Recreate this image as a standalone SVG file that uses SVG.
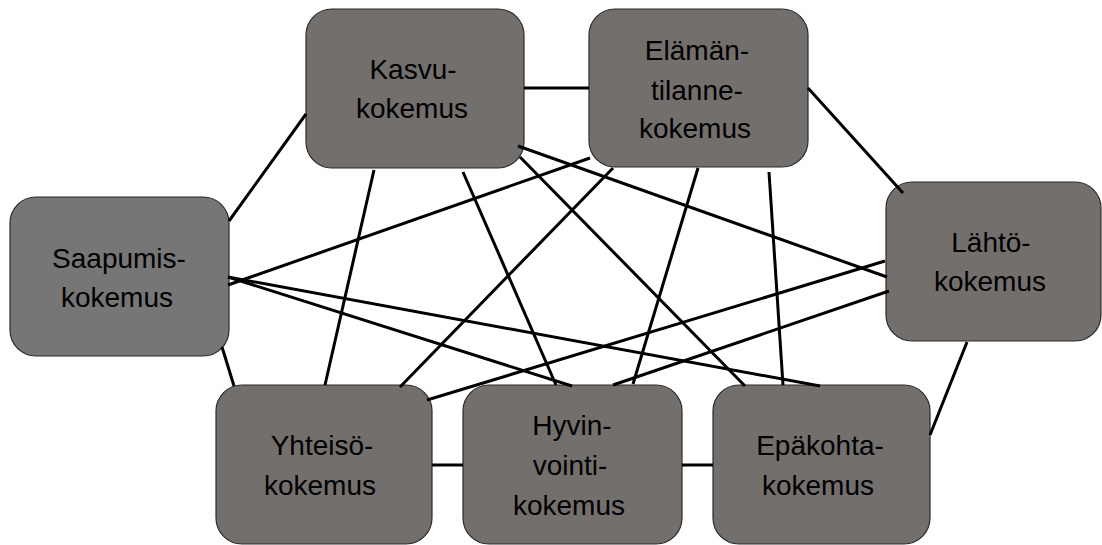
<svg xmlns="http://www.w3.org/2000/svg" width="1102" height="545" viewBox="0 0 1102 545">
<style>
.node rect{fill:#736f6d;stroke:#2b2b2b;stroke-width:1.2}
.node text{font-family:"Liberation Sans",Arial,sans-serif;font-size:28px;fill:#000;text-anchor:middle}
.edges line{stroke:#000;stroke-width:3;stroke-linecap:butt}
</style>
<rect width="1102" height="545" fill="#fff"/>
<g id="n-kasvu" class="node"><rect x="306" y="9" width="218" height="159" rx="26"/><text x="413" y="79">Kasvu-</text><text x="412" y="118">kokemus</text></g>
<g id="n-elaman" class="node"><rect x="589" y="9" width="219" height="158" rx="26"/><text x="697" y="60">Elämän-</text><text x="697" y="100">tilanne-</text><text x="695" y="138">kokemus</text></g>
<g id="n-saapumis" class="node"><rect x="10" y="197" width="219" height="159" rx="26" style="fill:#777676"/><text x="119" y="268">Saapumis-</text><text x="117" y="307">kokemus</text></g>
<g id="n-lahto" class="node"><rect x="886" y="182" width="215" height="159" rx="26"/><text x="991" y="252">Lähtö-</text><text x="990" y="291">kokemus</text></g>
<g id="n-yhteiso" class="node"><rect x="216" y="385" width="216" height="159" rx="26"/><text x="322" y="455">Yhteisö-</text><text x="320" y="495">kokemus</text></g>
<g id="n-hyvin" class="node"><rect x="463" y="385" width="219" height="159" rx="26"/><text x="572" y="435">Hyvin-</text><text x="570" y="475">vointi-</text><text x="569" y="515">kokemus</text></g>
<g id="n-epakohta" class="node"><rect x="713" y="385" width="217" height="159" rx="26"/><text x="820" y="455">Epäkohta-</text><text x="818" y="495">kokemus</text></g>
<g id="connectors" class="edges">
<line x1="524" y1="88" x2="589" y2="88"/>
<line x1="808" y1="88" x2="903" y2="193"/>
<line x1="306" y1="114" x2="229" y2="221"/>
<line x1="222" y1="347" x2="234" y2="386"/>
<line x1="432" y1="465" x2="463" y2="465"/>
<line x1="682" y1="465" x2="713" y2="465"/>
<line x1="930" y1="435" x2="967" y2="342"/>
<line x1="374" y1="170" x2="325" y2="385"/>
<line x1="463" y1="172" x2="556" y2="385"/>
<line x1="520" y1="157" x2="745" y2="386"/>
<line x1="518" y1="146" x2="887" y2="277"/>
<line x1="228" y1="285" x2="590" y2="158"/>
<line x1="228" y1="277" x2="572" y2="386"/>
<line x1="228" y1="277" x2="820" y2="386"/>
<line x1="613" y1="168" x2="400" y2="387"/>
<line x1="698" y1="168" x2="633" y2="384"/>
<line x1="769" y1="172" x2="783" y2="385"/>
<line x1="885" y1="261" x2="427" y2="400"/>
<line x1="889" y1="291" x2="613" y2="385"/>
</g>
</svg>
